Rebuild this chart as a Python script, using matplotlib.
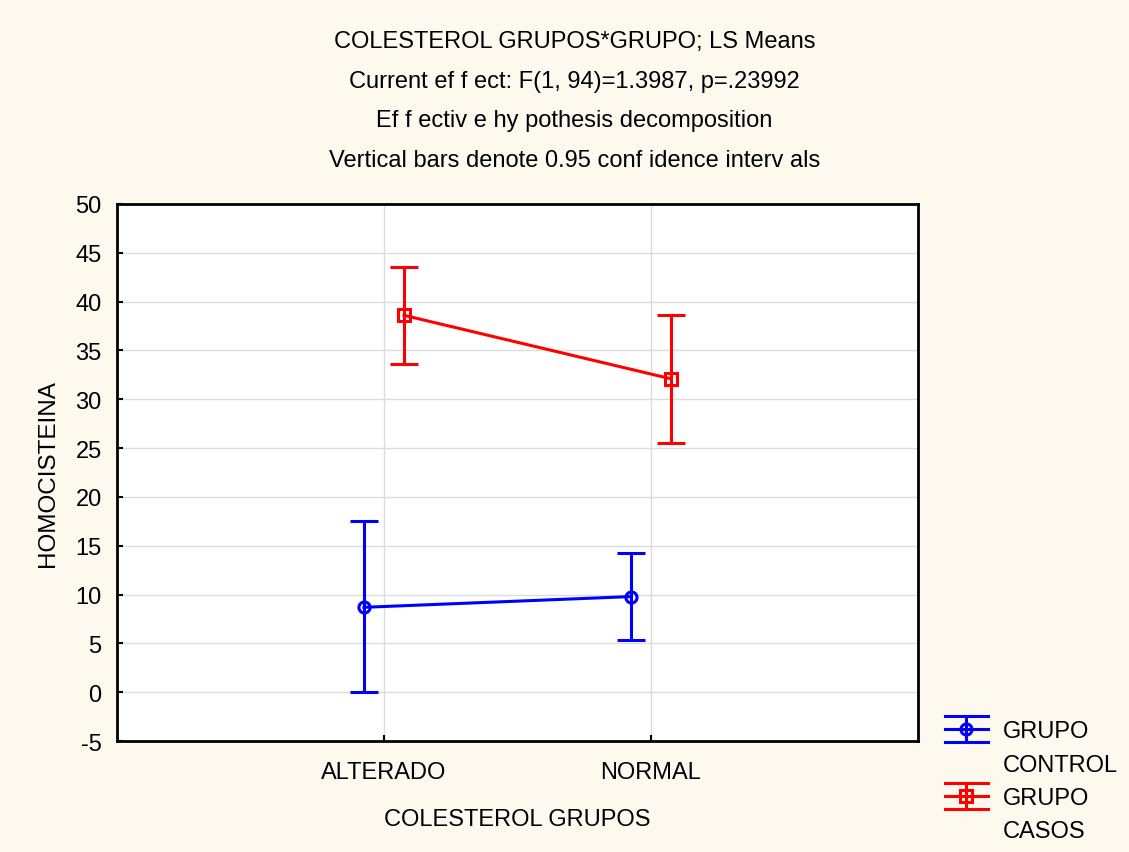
import matplotlib.pyplot as plt
from matplotlib.lines import Line2D
from matplotlib.legend_handler import HandlerBase

plt.rcParams['font.family'] = ['Liberation Sans', 'DejaVu Sans']
plt.rcParams['axes.unicode_minus'] = False

categories = ["ALTERADO", "NORMAL"]
control_mean = [8.7, 9.8]
control_low = [0.0, 5.4]
control_high = [17.5, 14.3]
casos_mean = [38.6, 32.1]
casos_low = [33.6, 25.5]
casos_high = [43.5, 38.6]

bg = '#fdf9ef'
fs = 17
lw = 2.2
fig = plt.figure(figsize=(11.29, 8.53), dpi=100, facecolor=bg)
ax = fig.add_axes([0.1036, 0.130, 0.7094, 0.6297])
ax.set_facecolor('white')

xpos = list(range(len(categories)))
off = 0.075


def draw(xs, mean, low, high, color, marker):
    err = [[m - l for m, l in zip(mean, low)], [h - m for m, h in zip(mean, high)]]
    ax.errorbar(xs, mean, yerr=err, color=color, lw=lw, elinewidth=lw,
                capsize=10, capthick=lw, marker=marker, ms=8,
                mfc='none', mec=color, mew=lw, zorder=3)


draw([x - off for x in xpos], control_mean, control_low, control_high, '#0000ff', 'o')
draw([x + off for x in xpos], casos_mean, casos_low, casos_high, '#ff0000', 's')

ax.set_xlim(-1, 2)
ax.set_ylim(-5, 50)
ax.set_yticks(range(-5, 51, 5))
ax.set_xticks(xpos)
ax.set_xticklabels(categories)
ax.grid(True, color='#dcdcdc', lw=1)
ax.set_axisbelow(True)
for s in ax.spines.values():
    s.set_linewidth(2)
ax.tick_params(direction='in', length=4, width=1.5, labelsize=fs)
ax.tick_params(axis='y', pad=11)
ax.tick_params(axis='x', pad=14)

ax.set_xlabel("COLESTEROL GRUPOS", fontsize=fs, labelpad=18)
ax.set_ylabel("HOMOCISTEINA", fontsize=17.5, labelpad=12)

titles = ["COLESTEROL GRUPOS*GRUPO; LS Means",
          "Current ef f ect: F(1, 94)=1.3987, p=.23992",
          "Ef f ectiv e hy pothesis decomposition",
          "Vertical bars denote 0.95 conf idence interv als"]
for i, t in enumerate(titles):
    fig.text(0.509, 1 - (42 + 39.7 * i) / 853, t, ha='center', va='center', fontsize=17)


class ErrorKey(HandlerBase):
    # horizontal line with marker, vertical bar and full-width caps
    def create_artists(self, legend, orig, xd, yd, w, h, fontsize, trans):
        if not orig.get_visible():
            a = Line2D([], [], visible=False)
            a.set_transform(trans)
            return [a]
        c = orig.get_color()
        cy = -yd + h / 2
        x0, x1 = -xd, -xd + w
        xm = (x0 + x1) / 2
        cap = 9.4
        arts = [Line2D([x0, x1], [cy, cy], color=c, lw=lw),
                Line2D([x0, x1], [cy + cap, cy + cap], color=c, lw=lw),
                Line2D([x0, x1], [cy - cap, cy - cap], color=c, lw=lw),
                Line2D([xm, xm], [cy - cap, cy + cap], color=c, lw=lw),
                Line2D([xm], [cy], marker=orig.get_marker(), ms=8, mfc='none',
                       mec=c, mew=lw, ls='none')]
        for a in arts:
            a.set_transform(trans)
        return arts


blank = Line2D([], [], visible=False)
keys = [Line2D([], [], color='#0000ff', marker='o'), blank,
        Line2D([], [], color='#ff0000', marker='s'), blank]
names = ["GRUPO", "CONTROL", "GRUPO", "CASOS"]
fig.legend(handles=keys, labels=names, loc='upper left', bbox_to_anchor=(0.837, 0.1545),
           frameon=False, fontsize=fs, handlelength=1.82, handletextpad=0.64,
           labelspacing=0.48, borderaxespad=0, borderpad=0,
           handler_map={Line2D: ErrorKey()})

fig.savefig("out.png", dpi=100, facecolor=bg)
